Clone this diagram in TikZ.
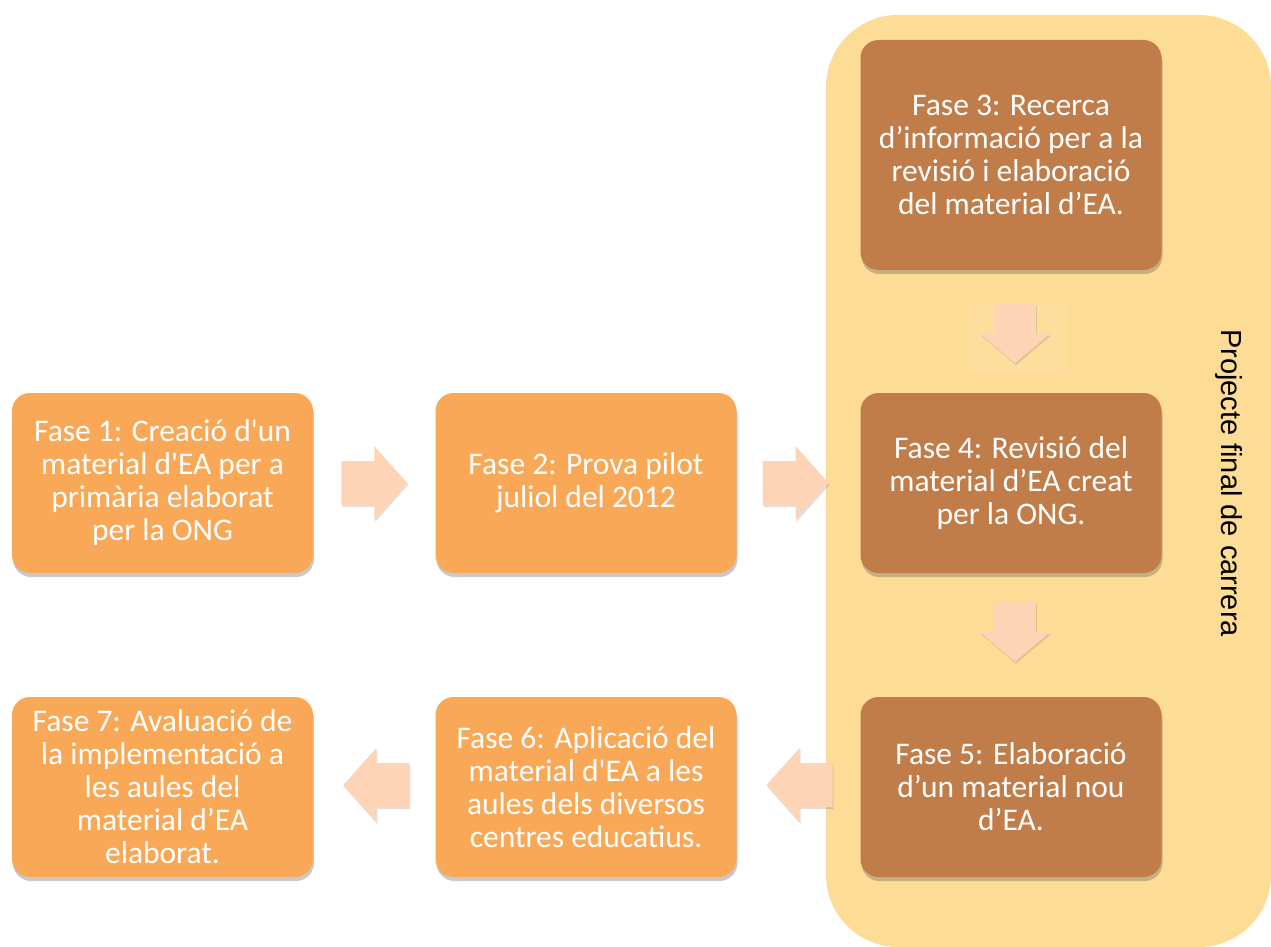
\documentclass[tikz,border=0pt]{standalone}
\usepackage{fontspec}
\setmainfont{Carlito}
\newfontfamily\boxfont{Carlito}
\newfontfamily\sidefont{Liberation Sans}
\usetikzlibrary{shadows,calc}
\definecolor{orangebox}{HTML}{F8A856}
\definecolor{brownbox}{HTML}{C07D4A}
\definecolor{panelfill}{HTML}{FDDC96}
\definecolor{arrowfill}{HTML}{FDD5B6}
\begin{document}
\begin{tikzpicture}[x=1pt,y=-1pt,
  phase/.style={rectangle, rounded corners=18pt, text=white, inner sep=0pt,
    font=\boxfont\fontsize{31.5}{33}\selectfont, align=center,
    minimum width=301pt, minimum height=180pt,
    drop shadow={shadow xshift=1pt, shadow yshift=-4pt, opacity=0.3, fill=black!70}},
  orangephase/.style={phase, fill=orangebox},
  brownphase/.style={phase, fill=brownbox},
  panelbox/.style={rectangle, rounded corners=72pt, fill=panelfill, inner sep=0pt},
  barrow/.pic={
    \fill[arrowfill, drop shadow={shadow xshift=1pt, shadow yshift=-2pt, opacity=0.2, fill=black!60}]
      (-33,-22) -- (0,-22) -- (0,-37) -- (33,0) -- (0,37) -- (0,22) -- (-33,22) -- cycle;
  }
]
\useasboundingbox (0,0) rectangle (1271,947);

% panel
\node[panelbox, minimum width=445pt, minimum height=932pt] (panel) at (1048.5,481) {};
\node[rotate=-90, font=\sidefont\fontsize{29}{32}\selectfont, inner sep=0pt] (label) at (1229,483) {Projecte final de carrera};

% phases
\node[orangephase] (f1) at (162.5,483) {Fase 1: Creació d'un\\material d'EA per a\\primària elaborat\\per la ONG};
\node[orangephase] (f2) at (586,483) {Fase 2: Prova pilot\\juliol del 2012};
\node[brownphase, minimum height=230pt] (f3) at (1011,155) {Fase 3: Recerca\\d’informació per a la\\revisió i elaboració\\del material d’EA.};
\node[brownphase] (f4) at (1011,483) {Fase 4: Revisió del\\material d’EA creat\\per la ONG.};
\node[brownphase] (f5) at (1011,787) {Fase 5: Elaboració\\d’un material nou\\d’EA.};
\node[orangephase] (f6) at (586,787) {Fase 6: Aplicació del\\material d'EA a les\\aules dels diversos\\centres educatius.};
\node[orangephase] (f7) at (162.5,787) {Fase 7: Avaluació de\\la implementació a\\les aules del\\material d’EA\\elaborat.};

% faint backdrop behind first down arrow
\fill[white, opacity=0.06] (968,305) rectangle (1067,373);

% connectors (block arrows)
\pic at ($(f1.east)!0.5!(f2.west)$) {barrow};
\pic at ($(f2.east)!0.5!(f4.west)+(-3,0)$) {barrow};
\pic[rotate=-90, yscale=0.95, xscale=0.9] at ($(f3.south)!0.5!(f4.north)+(4,2)$) {barrow};
\pic[rotate=-90, yscale=0.95, xscale=0.9] at ($(f4.south)!0.5!(f5.north)+(4,-3)$) {barrow};
\pic[rotate=180] at ($(f5.west)!0.5!(f6.east)+(1,-2)$) {barrow};
\pic[rotate=180] at ($(f6.west)!0.5!(f7.east)+(2,-2)$) {barrow};
\end{tikzpicture}
\end{document}
